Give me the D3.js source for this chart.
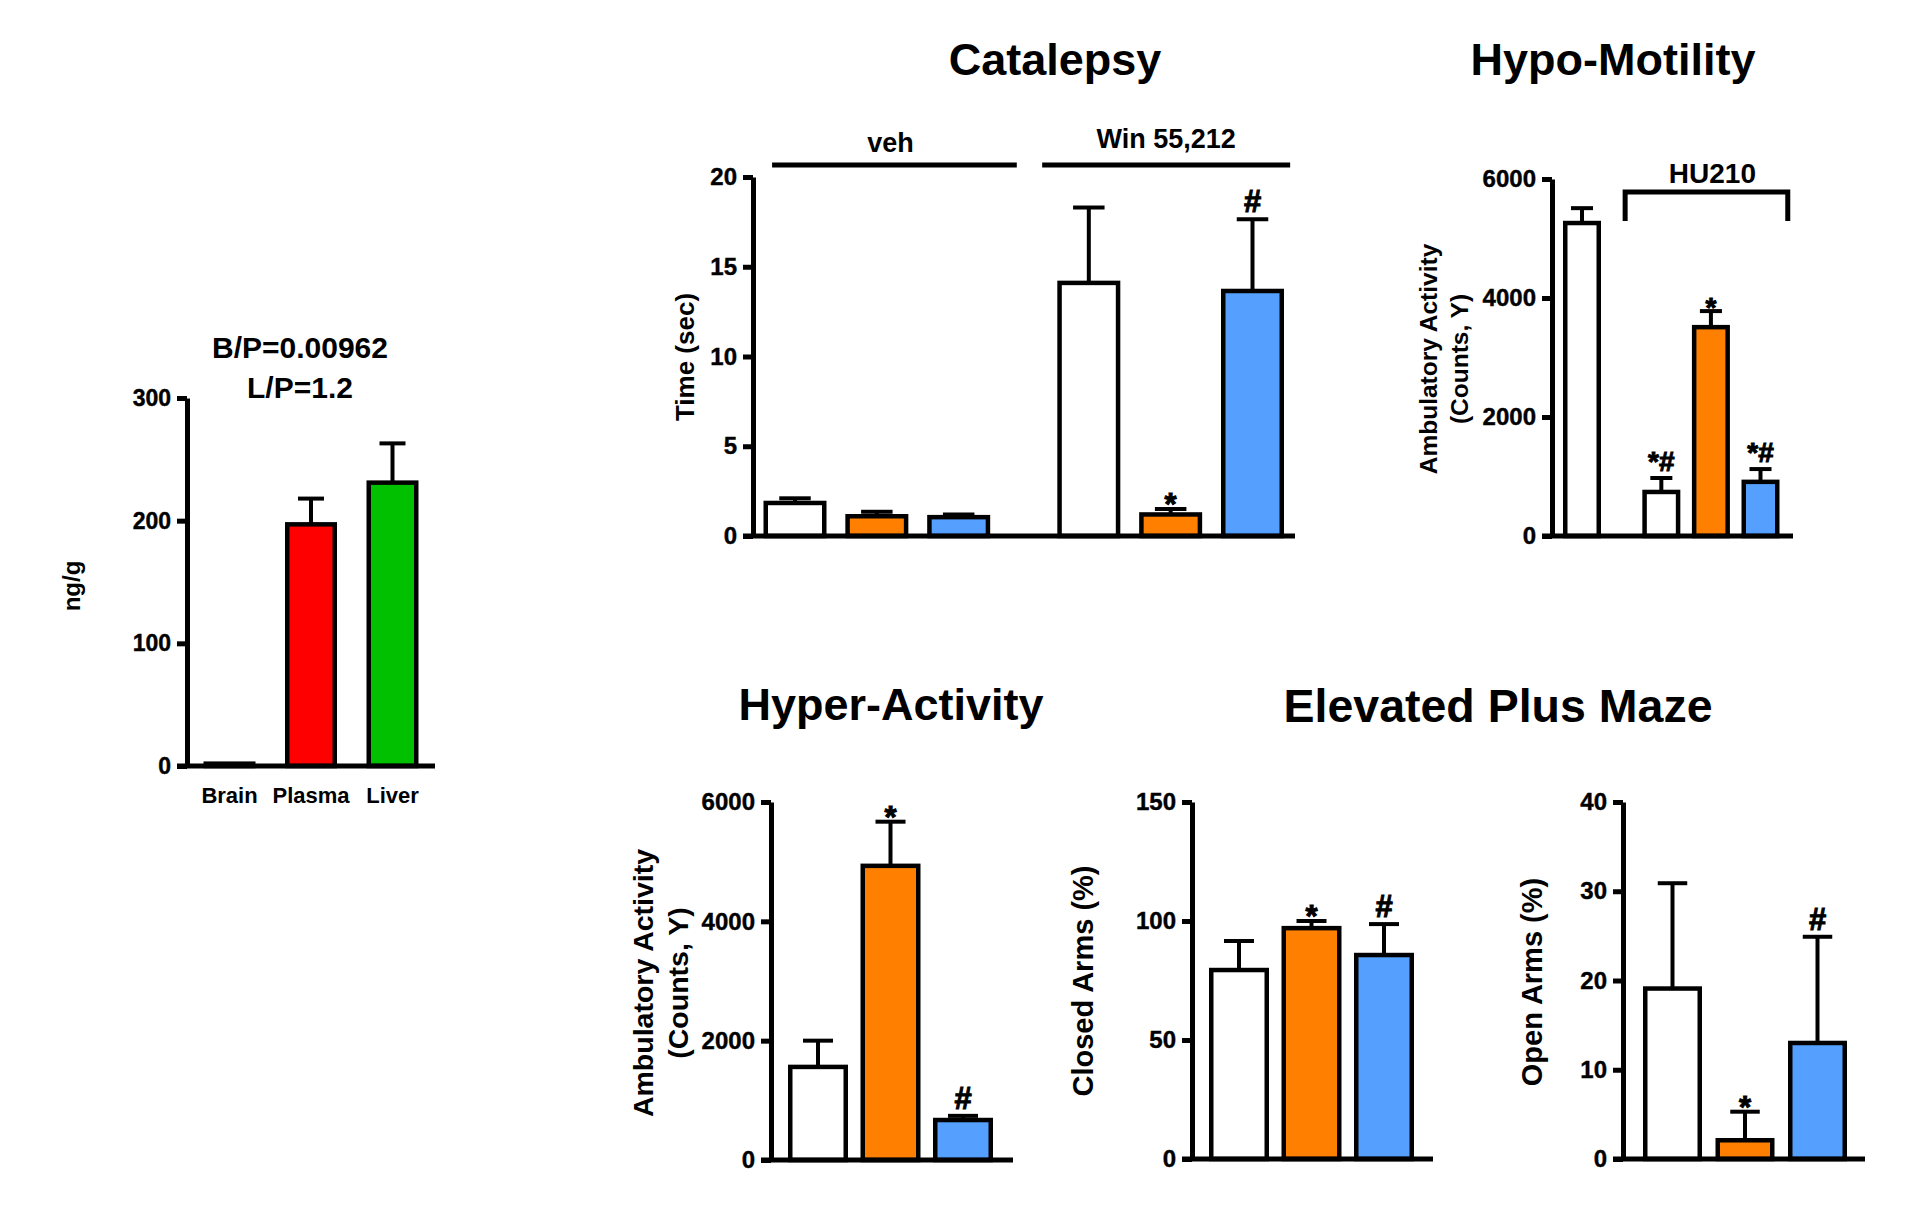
<!DOCTYPE html>
<html>
<head>
<meta charset="utf-8">
<script src="https://cdn.jsdelivr.net/npm/d3@7"></script>
<style>
  body { margin: 0; background: #fff; }
  svg text { font-family: "Liberation Sans", Arial, sans-serif; font-weight: bold; fill: #000; }
</style>
</head>
<body>
<svg id="chart" width="1913" height="1217"></svg>
<script>
// ---------------- DATA ----------------
const WHITE = "#ffffff", ORANGE = "#ff8000", BLUE = "#55a0ff", RED = "#ff0000", GREEN = "#00c000";

// PK (tissue levels)
const pkCategories = ["Brain", "Plasma", "Liver"];
const pkValues = [1.9, 197, 231];
const pkErrors = [0, 21, 32];
const pkColors = [WHITE, RED, GREEN];
const pkTicks = [0, 100, 200, 300];
const pkRatios = ["B/P=0.00962", "L/P=1.2"];

// Catalepsy
const catGroups = ["veh", "veh", "veh", "Win 55,212", "Win 55,212", "Win 55,212"];
const catValues = [1.84, 1.1, 1.05, 14.1, 1.2, 13.65];
const catErrors = [0.26, 0.25, 0.15, 4.2, 0.3, 4.0];
const catMarks = ["", "", "", "", "*", "#"];
const catColors = [WHITE, ORANGE, BLUE, WHITE, ORANGE, BLUE];
const catTicks = [0, 5, 10, 15, 20];

// Hypo-Motility
const hypoGroups = ["none", "HU210", "HU210", "HU210"];
const hypoValues = [5260, 740, 3510, 910];
const hypoErrors = [250, 235, 270, 215];
const hypoMarks = ["", "*#", "*", "*#"];
const hypoColors = [WHITE, WHITE, ORANGE, BLUE];
const hypoTicks = [0, 2000, 4000, 6000];

// Hyper-Activity
const hyperValues = [1560, 4930, 670];
const hyperErrors = [440, 740, 70];
const hyperMarks = ["", "*", "#"];
const hyperTicks = [0, 2000, 4000, 6000];

// Elevated Plus Maze - closed arms
const closedValues = [79.4, 97, 85.7];
const closedErrors = [12.2, 3, 13];
const closedMarks = ["", "*", "#"];
const closedTicks = [0, 50, 100, 150];

// Elevated Plus Maze - open arms
const openValues = [19.1, 2.1, 13.0];
const openErrors = [11.8, 3.2, 11.9];
const openMarks = ["", "*", "#"];
const openTicks = [0, 10, 20, 30, 40];

const triColors = [WHITE, ORANGE, BLUE];

// ---------------- DRAWING ----------------
const svg = d3.select("#chart");
svg.append("rect").attr("width", 1913).attr("height", 1217).attr("fill", "#fff");

const AXIS_W = 5, BAR_SW = 4.5, ERR_SW = 4;

function panel(cfg) {
  const g = svg.append("g");
  const y = d3.scaleLinear().domain([0, d3.max(cfg.ticks)]).range([cfg.y0, cfg.yTop]);
  const groupIndex = cfg.groups ? cfg.groups.map(gname => Array.from(new Set(cfg.groups)).indexOf(gname)) : cfg.values.map(() => 0);
  const slots = cfg.values.map((v, i) => i + groupIndex[i] * (cfg.gap || 0));
  const x = d3.scaleLinear().domain([slots[0], slots[slots.length - 1]]).range([cfg.c0, cfg.cN]);

  const ax = g.append("g").attr("transform", `translate(${cfg.axisX},0)`)
    .call(d3.axisLeft(y).tickValues(cfg.ticks).tickSize(10).tickSizeOuter(0).tickPadding(6).tickFormat(d3.format("d")));
  ax.select(".domain").attr("stroke", "#000").attr("stroke-width", AXIS_W);
  ax.selectAll(".tick line").attr("stroke", "#000").attr("stroke-width", AXIS_W);
  ax.selectAll(".tick text").attr("font-size", cfg.tickFont || 24).attr("font-family", null)
    .attr("stroke", "#000").attr("stroke-width", 0.4);
  ax.attr("font-family", null).attr("font-size", null);

  const w = cfg.barW;
  const data = cfg.values.map((v, i) => ({ v, e: cfg.errors[i], c: cfg.colors[i], m: cfg.marks ? cfg.marks[i] : "", s: slots[i] }));
  data.forEach(d => {
    if (d.e > 0) {
      const cx = x(d.s), top = y(d.v + d.e);
      g.append("line").attr("x1", cx).attr("x2", cx).attr("y1", y(d.v)).attr("y2", top)
        .attr("stroke", "#000").attr("stroke-width", ERR_SW);
      const cw = w * (cfg.capFrac || 0.5);
      g.append("line").attr("x1", cx - cw / 2).attr("x2", cx + cw / 2).attr("y1", top).attr("y2", top)
        .attr("stroke", "#000").attr("stroke-width", ERR_SW);
    }
  });
  g.selectAll("rect.bar").data(data).join("rect").attr("class", "bar")
    .attr("x", d => x(d.s) - w / 2 + BAR_SW / 2)
    .attr("width", w - BAR_SW)
    .attr("y", d => y(d.v))
    .attr("height", d => Math.max(0, cfg.y0 - y(d.v)))
    .attr("fill", d => d.c).attr("stroke", "#000").attr("stroke-width", BAR_SW);
  g.selectAll("text.mark").data(data.filter(d => d.m)).join("text").attr("class", "mark")
    .attr("x", d => x(d.s)).attr("y", d => y(d.v + d.e) + (d.m === "*" ? 6 : -7))
    .attr("text-anchor", "middle").attr("font-size", cfg.markFont || 31)
    .attr("stroke", "#000").attr("stroke-width", 1).text(d => d.m);

  g.append("line").attr("x1", cfg.axisX - 10).attr("x2", cfg.xEnd).attr("y1", cfg.y0).attr("y2", cfg.y0)
    .attr("stroke", "#000").attr("stroke-width", AXIS_W);

  cfg.ylabel.forEach((t, i) => {
    g.append("text").attr("transform", `translate(${cfg.ylabelX[i]},${cfg.ylabelY}) rotate(-90)`)
      .attr("text-anchor", "middle").attr("font-size", cfg.ylabelFont).text(t);
  });
  return { x, y, g, slots };
}

// PK panel
const pk = panel({
  axisX: 187, y0: 766, yTop: 398, xEnd: 435, ticks: pkTicks,
  c0: 229.5, cN: 392.5, barW: 52,
  values: pkValues, errors: pkErrors, colors: pkColors,
  ylabel: ["ng/g"], ylabelX: [80], ylabelY: 586, ylabelFont: 24, tickFont: 23
});
pk.g.selectAll("text.cat").data(pkCategories).join("text").attr("class", "cat")
  .attr("x", (d, i) => pk.x(pk.slots[i])).attr("y", 803).attr("text-anchor", "middle")
  .attr("font-size", 22).text(d => d);
pkRatios.forEach((t, i) => {
  svg.append("text").attr("x", 300).attr("y", 358 + i * 40).attr("text-anchor", "middle")
    .attr("font-size", 30).text(t);
});

// Catalepsy
const cat = panel({
  axisX: 753, y0: 536, yTop: 177, xEnd: 1295, ticks: catTicks,
  groups: catGroups, gap: 0.59, c0: 795, cN: 1252.5, barW: 63,
  values: catValues, errors: catErrors, colors: catColors, marks: catMarks,
  ylabel: ["Time (sec)"], ylabelX: [694], ylabelY: 357, ylabelFont: 26
});
const catGroupNames = Array.from(new Set(catGroups));
const catLineExt = [[-0.28, 2.71], [3.02, 6.05]];
catGroupNames.forEach((name, gi) => {
  const [a, b] = catLineExt[gi];
  cat.g.append("line").attr("x1", cat.x(a)).attr("x2", cat.x(b)).attr("y1", 165).attr("y2", 165)
    .attr("stroke", "#000").attr("stroke-width", 5);
  cat.g.append("text").attr("x", (cat.x(a) + cat.x(b)) / 2 - (gi === 0 ? 4 : 0)).attr("y", gi === 0 ? 152 : 148)
    .attr("text-anchor", "middle").attr("font-size", 27).text(name);
});

// Hypo-Motility
const hypo = panel({
  axisX: 1552, y0: 536, yTop: 179, xEnd: 1793, ticks: hypoTicks,
  groups: hypoGroups, gap: 0.6, c0: 1582, cN: 1760.5, barW: 38, capFrac: 0.58,
  values: hypoValues, errors: hypoErrors, colors: hypoColors, marks: hypoMarks, markFont: 28,
  ylabel: ["Ambulatory Activity", "(Counts, Y)"], ylabelX: [1437, 1468], ylabelY: 359, ylabelFont: 24.5
});
{
  const a = hypo.x(0.87), b = hypo.x(4.15);
  hypo.g.append("path").attr("d", `M${a},221 V192 H${b} V221`).attr("fill", "none")
    .attr("stroke", "#000").attr("stroke-width", 5);
  hypo.g.append("text").attr("x", (a + b) / 2 + 6).attr("y", 183).attr("text-anchor", "middle")
    .attr("font-size", 28).text("HU210");
}

// Hyper-Activity
panel({
  axisX: 771, y0: 1160, yTop: 802, xEnd: 1013, ticks: hyperTicks,
  c0: 818, cN: 963, barW: 60,
  values: hyperValues, errors: hyperErrors, colors: triColors, marks: hyperMarks,
  ylabel: ["Ambulatory Activity", "(Counts, Y)"], ylabelX: [653, 688], ylabelY: 983, ylabelFont: 28.5
});

// EPM closed arms
panel({
  axisX: 1192, y0: 1159, yTop: 802, xEnd: 1433, ticks: closedTicks,
  c0: 1239, cN: 1384, barW: 60,
  values: closedValues, errors: closedErrors, colors: triColors, marks: closedMarks,
  ylabel: ["Closed Arms (%)"], ylabelX: [1093], ylabelY: 981, ylabelFont: 29
});

// EPM open arms
panel({
  axisX: 1623, y0: 1159, yTop: 802, xEnd: 1865, ticks: openTicks,
  c0: 1672.5, cN: 1817.5, barW: 59,
  values: openValues, errors: openErrors, colors: triColors, marks: openMarks,
  ylabel: ["Open Arms (%)"], ylabelX: [1542], ylabelY: 982, ylabelFont: 29
});

// Titles
const titles = [["Catalepsy", 1055, 75, 45], ["Hypo-Motility", 1613, 75, 45], ["Hyper-Activity", 891, 720, 45], ["Elevated Plus Maze", 1498, 722, 46.5]];
titles.forEach(([t, x, y, fs]) => {
  svg.append("text").attr("x", x).attr("y", y).attr("text-anchor", "middle").attr("font-size", fs).text(t);
});
</script>
</body>
</html>
